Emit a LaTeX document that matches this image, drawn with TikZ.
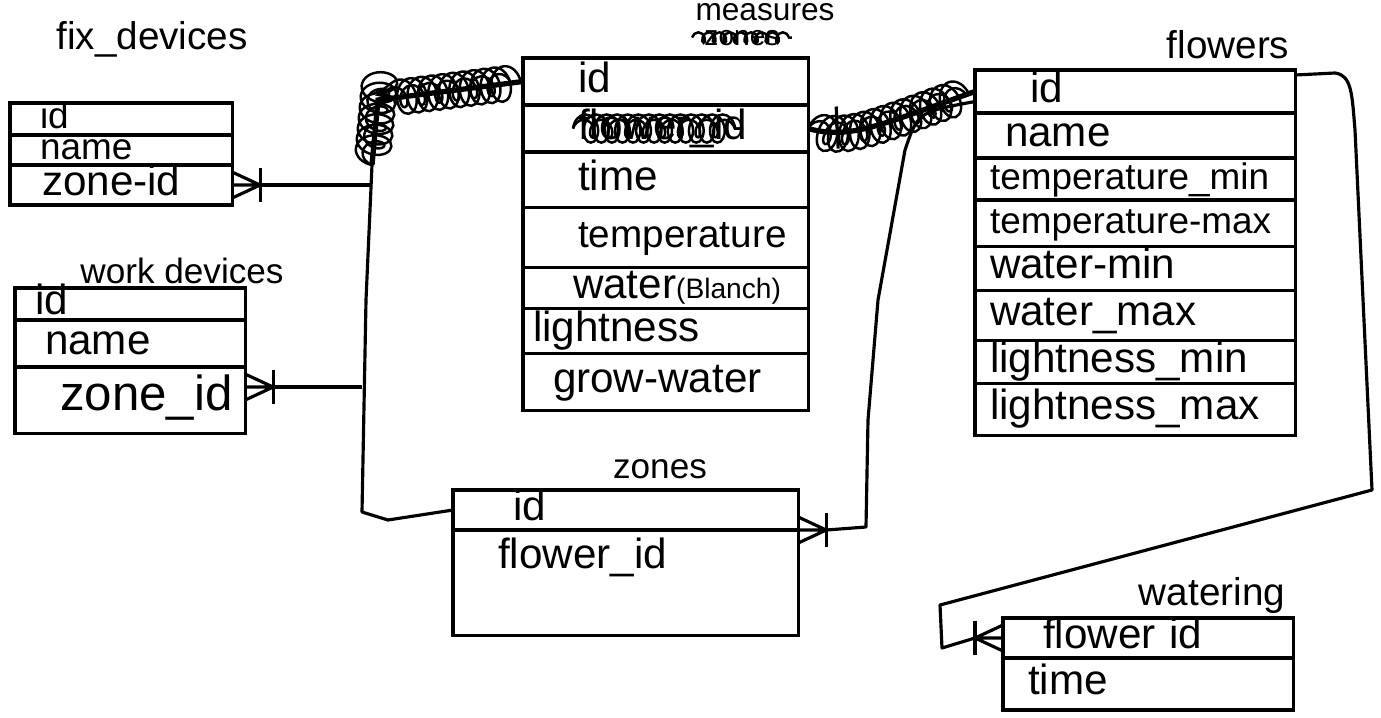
\documentclass[tikz,border=0pt]{standalone}
\usepackage{fontspec}
\setmainfont{Liberation Sans}
\usetikzlibrary{calc, positioning, decorations.pathmorphing}

\newcommand{\hand}{\fontsize{12}{14}\selectfont}

\tikzset{
  row/.style n args={3}{draw, line width=0.9pt, anchor=north west, inner ysep=0pt, outer sep=0pt,
    inner xsep=#3, text width=#1, minimum height=#2, text height=0.21cm, text depth=0pt, font=\hand},
  title/.style={anchor=base, font=\fontsize{10}{12}\selectfont},
  link/.style={line width=0.9pt, line join=round},
  scrib/.style={line width=0.7pt, decorate, decoration={coil, aspect=0.7, segment length=3pt, amplitude=#1}},
  scrib/.default=4pt,
  crowfoot/.pic={
    \draw[link] (0,-13) -- (28,0) (0,0) -- (28,0) (0,13) -- (28,0);
    \draw[link] (28,-17) -- (28,17);
  }
}

\begin{document}
\begin{tikzpicture}[x=0.01cm, y=-0.01cm]
\useasboundingbox (0,0) rectangle (1381,718);

% fix_devices
\node[title, font=\fontsize{11}{13}\selectfont] (fixtitle) at (152,50) {fix\_devices};
\node[row={1.62cm}{0.32cm}{0.30cm}, font=\fontsize{10.5}{12}\selectfont, text height=0.18cm] (fixid) at (10,103) {id};
\node[row={1.62cm}{0.30cm}{0.30cm}, font=\fontsize{10.5}{12}\selectfont, text height=0.18cm] (fixname) at (fixid.south west) {name};
\node[row={1.58cm}{0.40cm}{0.32cm}] (fixzone) at (fixname.south west) {zone-id};

% work devices
\node[title] (wrktitle) at (182,283) {work devices};
\node[row={1.90cm}{0.32cm}{0.20cm}] (wrkid) at (15,288) {id};
\node[row={1.70cm}{0.47cm}{0.30cm}] (wrkname) at (wrkid.south west) {name};
\node[row={1.40cm}{0.66cm}{0.45cm}, font=\fontsize{14}{16}\selectfont] (wrkzone) at (wrkname.south west) {zone\_id};

% measures
\node[title, font=\fontsize{9}{11}\selectfont] (mstitle) at (765,21) {measures};
\node[title, font=\fontsize{8}{10}\selectfont] (mszones) at (742,45) {zones};
\node[row={1.75cm}{0.47cm}{0.55cm}] (msid) at (523,58) {id};
\node[row={1.75cm}{0.47cm}{0.55cm}] (msflower) at (msid.south west) {flower\_id};
\node[row={1.75cm}{0.55cm}{0.55cm}] (mstime) at (msflower.south west) {time};
\node[row={1.75cm}{0.60cm}{0.55cm}, font=\fontsize{11}{13}\selectfont] (mstemp) at (mstime.south west) {temperature};
\node[row={1.85cm}{0.41cm}{0.50cm}] (mswater) at (mstemp.south west) {water{\footnotesize(Blanch)}};
\node[row={2.65cm}{0.45cm}{0.10cm}] (mslight) at (mswater.south west) {lightness};
\node[row={2.25cm}{0.57cm}{0.30cm}] (msgrow) at (mslight.south west) {\mbox{grow-water}};
% struck out
\draw[scrib=1.5pt] (mszones.west) -- (mszones.east);
\draw[scrib=4pt] ([xshift=0.5cm]msflower.west) -- ([xshift=2.2cm]msflower.west);
\draw[scrib=2.5pt, decoration={segment length=5pt}] ([xshift=0.5cm]msflower.west) -- ([xshift=2.2cm]msflower.west);

% flowers
\node[title, font=\fontsize{11}{13}\selectfont] (fltitle) at (1228,58) {flowers};
\node[row={2.10cm}{0.43cm}{0.55cm}] (flid) at (975,70) {id};
\node[row={2.60cm}{0.45cm}{0.30cm}] (flname) at (flid.south west) {name};
\node[row={2.90cm}{0.42cm}{0.15cm}, font=\fontsize{10.5}{12}\selectfont] (fltmin) at (flname.south west) {temperature\_min};
\node[row={2.90cm}{0.46cm}{0.15cm}, font=\fontsize{10.5}{12}\selectfont] (fltmax) at (fltmin.south west) {temperature-max};
\node[row={2.90cm}{0.44cm}{0.15cm}] (flwmin) at (fltmax.south west) {water-min};
\node[row={2.90cm}{0.50cm}{0.15cm}] (flwmax) at (flwmin.south west) {water\_max};
\node[row={2.90cm}{0.43cm}{0.15cm}] (fllmin) at (flwmax.south west) {lightness\_min};
\node[row={2.90cm}{0.52cm}{0.15cm}] (fllmax) at (fllmin.south west) {lightness\_max};

% zones
\node[title] (zntitle) at (660,478) {zones};
\node[row={2.25cm}{0.40cm}{0.60cm}] (znid) at (453,490) {id};
\node[row={2.55cm}{1.05cm}{0.45cm}, text depth=0.5cm] (znflower) at (znid.south west) {flower\_id};

% watering
\node[title, font=\fontsize{11}{13}\selectfont] (wttitle) at (1212,605) {watering};
\node[row={2.10cm}{0.40cm}{0.40cm}] (wtflower) at (1003,618) {flower id};
\node[row={2.40cm}{0.52cm}{0.25cm}] (wttime) at (wtflower.south west) {time};

% devices -> zones
\coordinate (trtop) at (372,165);
\coordinate (trbot) at (362,512);
\pic at (fixzone.east) {crowfoot};
\coordinate (fixfoot) at ([xshift=0.28cm]fixzone.east);
\draw[link] (fixfoot) -- (fixfoot -| trtop);
\pic at ([yshift=0.13cm]wrkzone.east) {crowfoot};
\coordinate (wrkfoot) at ([xshift=0.28cm, yshift=0.13cm]wrkzone.east);
\draw[link] (wrkfoot) -- (wrkfoot -| trbot);
\draw[link] (trtop) -- (366,300) -- (trbot) -- (388,520) -- (znid.west);

% zones -> flowers
\pic at (znid.south east) {crowfoot};
\coordinate (znfoot) at ([xshift=0.28cm]znid.south east);
\draw[link] (znfoot) -- (866,527) -- (868,420) -- (878,300) -- (905,150)
  .. controls (918,112) .. ([yshift=-0.1cm]flid.west);

% flowers -> watering
\pic[rotate=180] at (wtflower.west) {crowfoot};
\coordinate (wtfoot) at ([xshift=-0.28cm]wtflower.west);
\draw[link] ([yshift=-0.05cm]flid.north east) -- (1335,73)
  .. controls (1352,75) and (1352,95) .. (1355,130) -- (1372,490)
  -- (940,605) -- (942,648) -- (wtfoot);

% crossed out links
\draw[line width=1.5pt] (trtop) -- (378,100) -- (msid.west);
\draw[scrib=5pt] (trtop) -- (378,100) -- (msid.west);
\draw[scrib=3pt, decoration={segment length=5pt}] (trtop) -- (378,100) -- (msid.west);
\draw[line width=1.5pt] (msflower.east) .. controls (850,140) and (880,125) .. (flid.west);
\draw[scrib=5pt] (msflower.east) .. controls (850,140) and (880,125) .. (flid.west);
\draw[scrib=3pt, decoration={segment length=5pt}] (msflower.east) .. controls (850,140) and (880,125) .. (flid.west);
\draw[link] ([xshift=0.28cm, yshift=0.22cm]msflower.east) -- ([xshift=0.3cm, yshift=-0.2cm]msflower.east);
\end{tikzpicture}
\end{document}
